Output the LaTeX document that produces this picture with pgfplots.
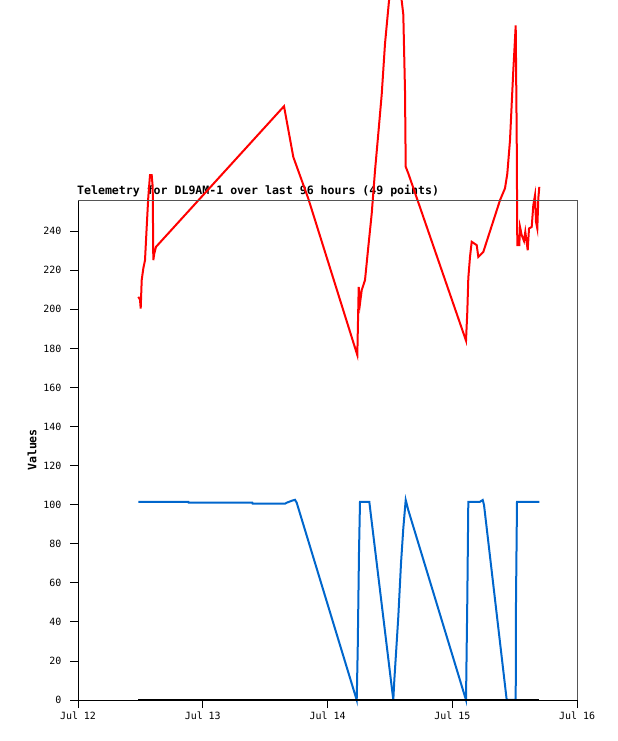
\documentclass[border=0pt]{standalone}
\usepackage{pgfplots}
\pgfplotsset{compat=1.18}
\usepackage{fontspec}
\setmonofont{DejaVu Sans Mono}
\definecolor{tred}{RGB}{255,0,0}
\definecolor{tblue}{RGB}{0,102,204}
\definecolor{frame}{RGB}{85,85,85}
\begin{document}
\begin{tikzpicture}[x=1bp,y=1bp]
\node[anchor=base west, inner sep=0, font=\ttfamily\bfseries\fontsize{11.6}{13}\selectfont] at (77,546) {Telemetry for DL9AM-1 over last 96 hours (49 points)};
\begin{axis}[
  at={(78bp,41bp)}, anchor=origin,
  width=499bp, height=500bp, scale only axis,
  clip=false,
  xmin=0, xmax=4, ymin=0, ymax=256,
  axis x line*=bottom, axis y line*=left,
  axis line style={black, line width=0.8bp},
  xtick={0,1,2,3,4},
  xticklabels={Jul 12,Jul 13,Jul 14,Jul 15,Jul 16},
  ytick={0,20,...,240},
  tick align=outside,
  major tick length=8bp,
  tick style={black, line width=0.8bp},
  /pgf/number format/assume math mode=true,
  ticklabel style={font=\ttfamily\fontsize{10}{12}\selectfont},
  yticklabel style={xshift=-5bp},
  ylabel={Values},
  every axis y label/.style={at={(rel axis cs:0,0.5)}, xshift=-46bp, anchor=center, rotate=90, font=\ttfamily\bfseries\fontsize{11.6}{13}\selectfont},
  after end axis/.code={\draw[frame, line width=0.8bp] (rel axis cs:0,1) -- (rel axis cs:1,1) -- (rel axis cs:1,0);},
]
\addplot[tblue, line width=2bp] coordinates {
(0.4834,101.5) (0.8842,101.5) (0.8874,101.0) (1.3972,101.0) (1.4004,100.5)
(1.6593,100.5) (1.6729,101) (1.7130,102) (1.7395,102.5) (1.7531,101)
(2.2341,0) (2.2421,25.6) (2.2525,75.9) (2.2605,101.5) (2.3351,101.5)
(2.3463,95.5) (2.5275,0) (2.5355,10) (2.5675,42.6) (2.5892,70)
(2.6076,87.9) (2.6269,102.4) (2.6477,97.2) (3.1102,0) (3.1206,51.2)
(3.1287,101.5) (3.2224,101.5) (3.2441,102.4) (3.2545,99.9) (3.4365,0)
(3.5086,0) (3.5110,51.2) (3.5190,101.5) (3.6978,101.5)
};
\addplot[tred, line width=2bp] coordinates {
(0.4834,206.4) (0.4970,205) (0.5026,200.4) (0.5106,215) (0.5234,220.9)
(0.5371,225.2) (0.5507,242.2) (0.5635,257.6) (0.5772,268.7) (0.5908,268.7)
(0.5988,262.7) (0.6036,225.2) (0.6116,228.6) (0.6253,232)
(1.6513,304) (1.7259,278) (1.8461,256.7) (2.2389,176.6)
(2.2501,211.5) (2.2605,203) (2.2741,209.8) (2.3006,215) (2.3271,232)
(2.3543,249) (2.3808,271) (2.4072,290) (2.4345,310) (2.4609,336)
(2.4930,358) (2.5451,390) (2.5948,358) (2.6076,351) (2.6212,312)
(2.6269,273) (2.6477,269.6) (3.1102,184) (3.1206,198.7) (3.1287,216)
(3.1423,226.9) (3.1559,234.6) (3.1960,232.9) (3.2088,226.9) (3.2489,229.4)
(3.3828,255.9) (3.4228,262) (3.4413,269.5) (3.4629,286.6) (3.4766,305.3)
(3.4894,322.4) (3.4974,331.8) (3.5086,345.4) (3.5166,289) (3.5214,232.9)
(3.5375,232.9) (3.5431,242.2) (3.5567,238) (3.5752,235) (3.5856,239.7)
(3.6048,230.3) (3.6152,241.4) (3.6369,242.2) (3.6497,253.3) (3.6633,258.4)
(3.6713,244.8) (3.6818,241.4) (3.6898,256.7) (3.6978,262.7)
};
\addplot[black, line width=2bp] coordinates {(0.4834,0) (3.6978,0)};
\end{axis}
\pgfresetboundingbox
\useasboundingbox (0,0) rectangle (618,741);
\end{tikzpicture}
\end{document}
